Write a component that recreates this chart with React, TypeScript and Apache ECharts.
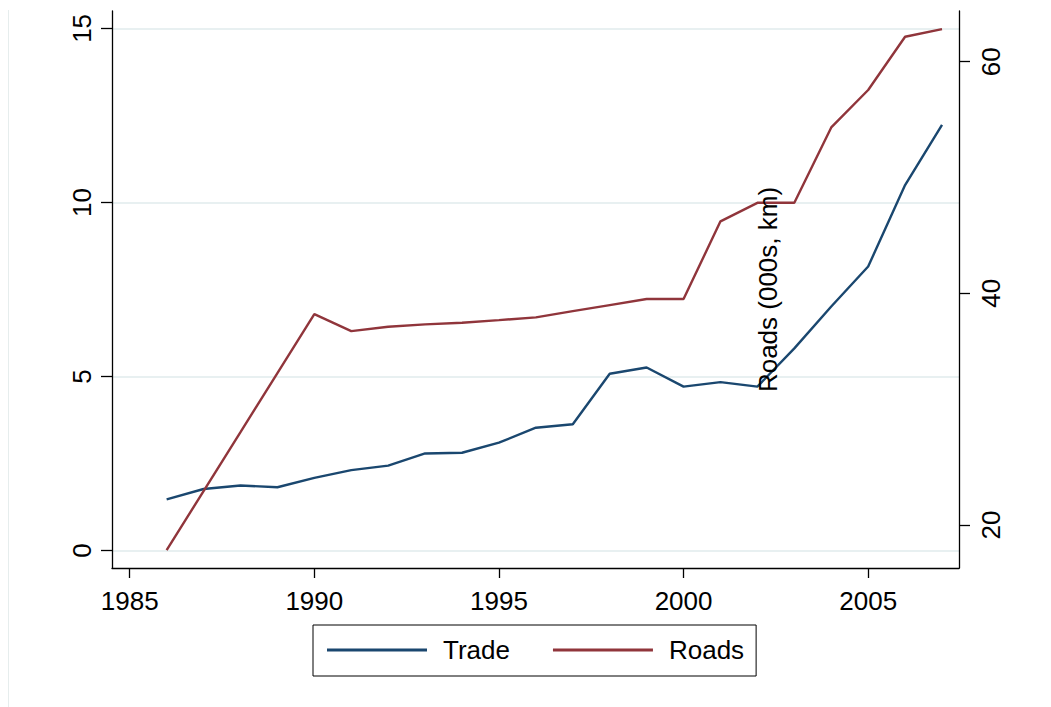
import React, { useEffect, useRef } from "react";
import * as echarts from "echarts";

const years = [1986, 1987, 1988, 1989, 1990, 1991, 1992, 1993, 1994, 1995, 1996, 1997, 1998, 1999, 2000, 2001, 2002, 2003, 2004, 2005, 2006, 2007];
const trade = [1.47, 1.77, 1.87, 1.82, 2.09, 2.31, 2.44, 2.79, 2.81, 3.1, 3.53, 3.63, 5.08, 5.26, 4.71, 4.84, 4.71, 5.81, 7.01, 8.16, 10.5, 12.23];
const roads = [17.83, 22.93, 28.02, 33.12, 38.21, 36.74, 37.12, 37.32, 37.46, 37.69, 37.93, 38.47, 38.99, 39.51, 39.51, 46.22, 47.82, 47.82, 54.33, 57.56, 62.16, 62.82];
const xTicks = [1985, 1990, 1995, 2000, 2005];
const leftTicks = [0, 5, 10, 15];
const rightTicks = [20, 40, 60];
const rightAxisTitle = "Roads (000s, km)";

const FONT = '"Liberation Sans", Arial, Helvetica, sans-serif';

export default function App() {
  const ref = useRef<HTMLDivElement>(null);
  useEffect(() => {
    document.body.style.margin = "0";
    if (!ref.current) return;
    const chart = echarts.init(ref.current, null, { renderer: "svg" });
    const axisLine = { show: true, onZero: false, lineStyle: { color: "#000", width: 1.3 } };
    const plain = (v: number) => String(v);
    chart.setOption({
      animation: false,
      backgroundColor: "#fff",
      textStyle: { fontFamily: FONT },
      grid: { left: 112, right: 92, top: 11, bottom: 139, containLabel: false },
      xAxis: {
        type: "value",
        min: 1984.52,
        max: 2007.46,
        axisLine,
        axisTick: { show: true, length: 10, customValues: xTicks, lineStyle: { color: "#000", width: 1.3 } },
        axisLabel: { customValues: xTicks, formatter: plain, fontSize: 26, color: "#000", margin: 20, fontFamily: FONT },
        splitLine: { show: false },
      },
      yAxis: [
        {
          type: "value",
          position: "left",
          min: -0.5,
          max: 15.5,
          axisLine,
          axisTick: { show: true, length: 11, customValues: leftTicks, lineStyle: { color: "#000", width: 1.3 } },
          axisLabel: { customValues: leftTicks, formatter: plain, rotate: 90, fontSize: 26, color: "#000", margin: 17, fontFamily: FONT },
          splitLine: { show: true, lineStyle: { color: "#e8f0f1", width: 2 } },
        },
        {
          type: "value",
          position: "right",
          min: 16.29,
          max: 64.38,
          alignTicks: false,
          axisLine,
          axisTick: { show: true, length: 11, customValues: rightTicks, lineStyle: { color: "#000", width: 1.3 } },
          axisLabel: { customValues: rightTicks, formatter: plain, rotate: 90, fontSize: 26, color: "#000", margin: 19, fontFamily: FONT },
          splitLine: { show: false },
        },
      ],
      legend: {
        left: 313,
        top: 625,
        orient: "horizontal",
        icon: "rect",
        itemWidth: 100,
        itemHeight: 3,
        itemGap: 43,
        padding: [12, 12, 13, 14],
        borderColor: "#000",
        borderWidth: 1,
        backgroundColor: "#fff",
        textStyle: { fontSize: 26, color: "#000", fontFamily: FONT, padding: [0, 0, 0, 11] },
        data: ["Trade", "Roads"],
      },
      graphic: [
        {
          type: "line",
          shape: { x1: 8.5, y1: 10, x2: 8.5, y2: 707 },
          style: { stroke: "#e6eded", lineWidth: 1 },
          silent: true,
        },
        {
          type: "text",
          x: 768,
          y: 289.5,
          rotation: Math.PI / 2,
          style: {
            text: rightAxisTitle,
            font: `26px ${FONT}`,
            fill: "#000",
            align: "center",
            verticalAlign: "middle",
          },
          z: 10,
        },
      ],
      series: [
        {
          name: "Trade",
          type: "line",
          yAxisIndex: 0,
          symbol: "none",
          data: years.map((y, i) => [y, trade[i]]),
          lineStyle: { color: "#1a476f", width: 2.4 },
          itemStyle: { color: "#1a476f" },
        },
        {
          name: "Roads",
          type: "line",
          yAxisIndex: 1,
          symbol: "none",
          data: years.map((y, i) => [y, roads[i]]),
          lineStyle: { color: "#90353b", width: 2.4 },
          itemStyle: { color: "#90353b" },
        },
      ],
    });
    return () => chart.dispose();
  }, []);
  return <div ref={ref} style={{ width: 1051, height: 707 }} />;
}
